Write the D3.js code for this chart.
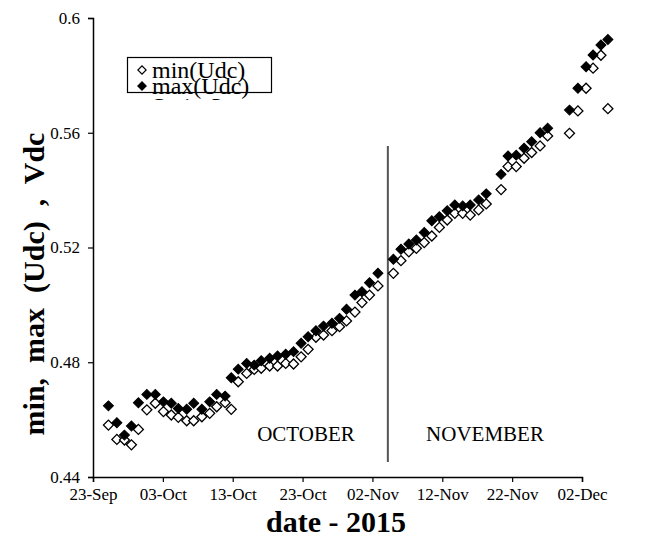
<!DOCTYPE html>
<html>
<head>
<meta charset="utf-8">
<script src="https://cdn.jsdelivr.net/npm/d3@7"></script>
<style>
  body { margin: 0; background: #fff; }
  text { font-family: "Liberation Serif", "Times New Roman", serif; fill: #000; }
</style>
</head>
<body>
<svg id="chart" width="659" height="538"></svg>
<script>
// days after 23-Sep-2015 for each reading
const dayOffset = [2.2, 3.4, 4.5, 5.5, 6.5, 7.7, 8.9, 10.1, 11.2, 12.2, 13.4, 14.4, 15.6, 16.7, 17.7, 18.9, 19.8,
  20.8, 22.0, 23.1, 24.1, 25.3, 26.4, 27.6, 28.7, 29.8, 30.8, 31.9, 33.0, 34.2, 35.3, 36.3, 37.5, 38.5, 39.6, 40.8,
  43.0, 44.1, 45.2, 46.3, 47.4, 48.5, 49.6, 50.7, 51.8, 52.9, 54.0, 55.2, 56.3,
  58.4, 59.4, 60.6, 61.7, 62.8, 64.0, 65.1, 68.2, 69.4, 70.6, 71.6, 72.7, 73.7];

const minUdc = [0.4581, 0.4531, 0.4529, 0.4512, 0.4566, 0.4634, 0.4657, 0.4628, 0.4616, 0.4608, 0.4596, 0.4596, 0.4610,
  0.4622, 0.4645, 0.4659, 0.4636, 0.4732, 0.4761, 0.4775, 0.4779, 0.4787, 0.4787, 0.4796, 0.4794, 0.4819, 0.4845,
  0.4887, 0.4895, 0.4910, 0.4924, 0.4944, 0.4975, 0.5008, 0.5034, 0.5066, 0.5110, 0.5154, 0.5185, 0.5197, 0.5217,
  0.5240, 0.5270, 0.5296, 0.5319, 0.5319, 0.5313, 0.5331, 0.5352, 0.5402, 0.5482, 0.5482, 0.5511, 0.5531, 0.5554,
  0.5589, 0.5598, 0.5676, 0.5755, 0.5825, 0.5870, 0.5684];

const maxUdc = [0.4648, 0.4589, 0.4546, 0.4578, 0.4659, 0.4688, 0.4688, 0.4662, 0.4657, 0.4639, 0.4636, 0.4657, 0.4636,
  0.4662, 0.4688, 0.4682, 0.4746, 0.4776, 0.4796, 0.4790, 0.4805, 0.4814, 0.4822, 0.4828, 0.4837, 0.4866, 0.4889,
  0.4910, 0.4926, 0.4936, 0.4953, 0.4985, 0.5034, 0.5046, 0.5077, 0.5110, 0.5159, 0.5194, 0.5212, 0.5226, 0.5252,
  0.5293, 0.5307, 0.5328, 0.5348, 0.5345, 0.5348, 0.5366, 0.5387, 0.5455, 0.5519, 0.5522, 0.5546, 0.5569, 0.5600,
  0.5616, 0.5679, 0.5755, 0.5830, 0.5871, 0.5906, 0.5925];

const yTicks = [0.44, 0.48, 0.52, 0.56, 0.6];
const xTickDays = [0, 10, 20, 30, 40, 50, 60, 70];
const monthLabels = ["OCTOBER", "NOVEMBER"];
const legendLabels = ["min(Udc)", "max(Udc)", "Series3"];
const dividerDay = 42.2;

const svg = d3.select('#chart');
const base = new Date(2015, 8, 23);
const toDate = d => d3.timeHour.offset(base, Math.round(d * 24));

const x = d3.scaleTime()
    .domain([base, d3.timeDay.offset(base, 70)])
    .range([93, 582]);
const y = d3.scaleLinear()
    .domain([0.44, 0.6])
    .range([477, 18]);

// axes
const xAxis = d3.axisBottom(x)
    .tickValues(xTickDays.map(d => d3.timeDay.offset(base, d)))
    .tickFormat(d3.timeFormat('%d-%b'))
    .tickSize(5)
    .tickPadding(6);
const gx = svg.append('g').attr('transform', 'translate(0,477)').call(xAxis);

const yAxis = d3.axisLeft(y)
    .tickValues(yTicks)
    .tickFormat(d => d === 0.6 ? '0.6' : d3.format('.2f')(d))
    .tickSize(5)
    .tickPadding(8);
const gy = svg.append('g').attr('transform', 'translate(93,0)').call(yAxis);

[gx, gy].forEach(g => {
    g.select('.domain').attr('stroke', '#000').attr('stroke-width', 1.5);
    g.selectAll('.tick line').attr('stroke', '#000').attr('stroke-width', 1.2);
    g.selectAll('.tick text')
        .attr('font-family', '"Liberation Serif", serif')
        .attr('font-size', 17)
        .attr('fill', '#000');
});

// axis titles
svg.append('text')
    .attr('x', 336).attr('y', 532)
    .attr('text-anchor', 'middle')
    .attr('font-size', 30).attr('font-weight', 'bold')
    .text('date - 2015');

svg.append('text')
    .attr('transform', 'translate(44,284) rotate(-90)')
    .attr('text-anchor', 'middle')
    .attr('font-size', 30).attr('font-weight', 'bold')
    .style('white-space', 'pre')
    .text('min,  max  (Udc)  ,  Vdc');

// month divider and labels
svg.append('line')
    .attr('x1', x(toDate(dividerDay))).attr('x2', x(toDate(dividerDay)))
    .attr('y1', 146).attr('y2', 462)
    .attr('stroke', '#555').attr('stroke-width', 2);

svg.append('text').attr('x', 306).attr('y', 441)
    .attr('text-anchor', 'middle').attr('font-size', 21).text(monthLabels[0]);
svg.append('text').attr('x', 485).attr('y', 441)
    .attr('text-anchor', 'middle').attr('font-size', 21).text(monthLabels[1]);

// markers: rotated squares
const diamond = d3.symbol().type(d3.symbolSquare).size(50);

svg.append('g')
    .selectAll('path')
    .data(dayOffset.map((d, i) => [d, minUdc[i]]))
    .enter().append('path')
    .attr('d', diamond)
    .attr('transform', d => `translate(${x(toDate(d[0]))},${y(d[1])}) rotate(45)`)
    .attr('fill', '#fff')
    .attr('stroke', '#000')
    .attr('stroke-width', 1.3);

svg.append('g')
    .selectAll('path')
    .data(dayOffset.map((d, i) => [d, maxUdc[i]]))
    .enter().append('path')
    .attr('d', diamond)
    .attr('transform', d => `translate(${x(toDate(d[0]))},${y(d[1])}) rotate(45)`)
    .attr('fill', '#000')
    .attr('stroke', '#000')
    .attr('stroke-width', 1);

// legend (third entry only peeks out under the box, as in the original)
svg.append('clipPath').attr('id', 'legclip')
    .append('rect').attr('x', 120).attr('y', 50).attr('width', 160).attr('height', 50);
const legItems = svg.append('g').attr('clip-path', 'url(#legclip)');
legItems.append('rect')
    .attr('x', 127.5).attr('y', 57.5).attr('width', 144).attr('height', 35)
    .attr('fill', '#fff').attr('stroke', '#000').attr('stroke-width', 1.2);

const small = d3.symbol().type(d3.symbolSquare).size(34);
legendLabels.forEach((lab, i) => {
    const yy = 70 + i * 16 + (i === 2 ? 4 : 0);
    if (i < 2) {
        legItems.append('path')
            .attr('d', small)
            .attr('transform', `translate(142,${yy}) rotate(45)`)
            .attr('fill', i === 0 ? '#fff' : '#000')
            .attr('stroke', '#000').attr('stroke-width', 1.2);
    }
    legItems.append('text')
        .attr('x', 152).attr('y', yy + 8)
        .attr('font-size', 24)
        .text(lab);
});
</script>
</body>
</html>
